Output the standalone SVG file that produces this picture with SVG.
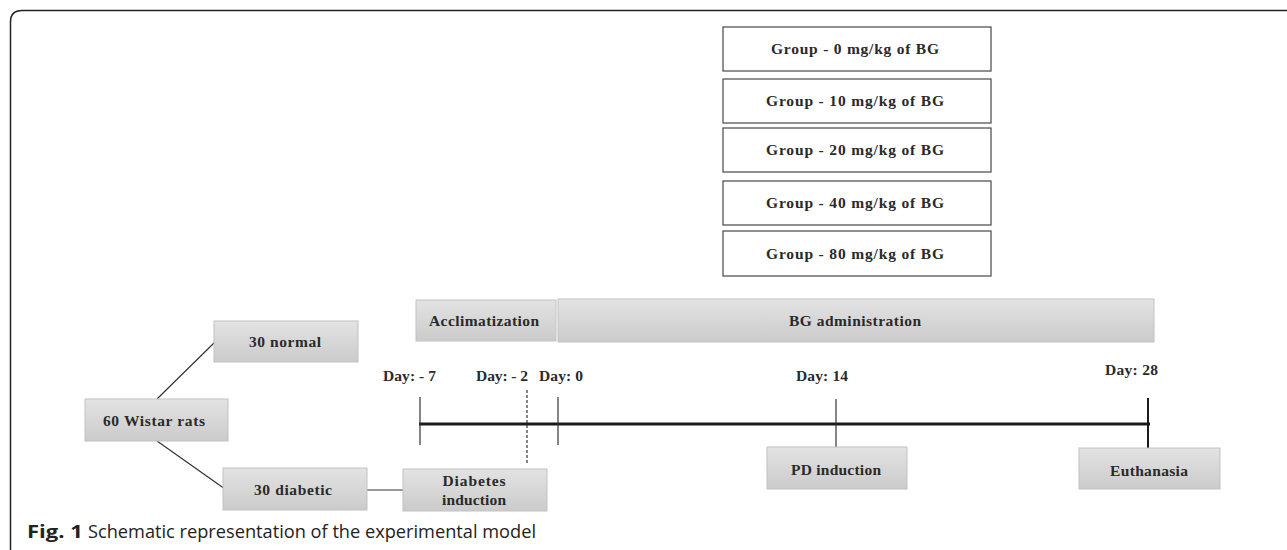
<svg xmlns="http://www.w3.org/2000/svg" width="1287" height="550" viewBox="0 0 1287 550">
<defs>
<linearGradient id="g" x1="0" y1="0" x2="0" y2="1">
<stop offset="0" stop-color="#e3e3e3"/>
<stop offset="1" stop-color="#cbcbcb"/>
</linearGradient>
</defs>
<style>
.box{fill:url(#g);stroke:#c2c2c2;stroke-width:1}
.wbox{fill:#fff;stroke:#555;stroke-width:1.3}
.t{font-family:"Liberation Serif","Times New Roman",serif;font-weight:bold;font-size:15.5px;fill:#2a2a2a;text-anchor:middle}
.cap{font-family:"Open Sans","Noto Sans",sans-serif;font-size:18px;fill:#222}
.ln{stroke:#333;stroke-width:1.2;fill:none}
</style>
<rect width="1287" height="550" fill="#fff"/>
<path d="M10.5,550 V22 Q10.5,10.5 22,10.5 H1287" fill="none" stroke="#222" stroke-width="1.5"/>

<g id="connectors">
<line class="ln" x1="157" y1="399" x2="216" y2="341"/>
<line class="ln" x1="157" y1="441" x2="225" y2="489"/>
<line class="ln" x1="367" y1="490" x2="403" y2="490"/>
<line x1="419" y1="424" x2="1150" y2="424" stroke="#1a1a1a" stroke-width="3"/>
<line class="ln" x1="420" y1="397" x2="420" y2="445"/>
<line class="ln" x1="527" y1="390" x2="527" y2="463" stroke-dasharray="3,2"/>
<line class="ln" x1="558" y1="397" x2="558" y2="445"/>
<line class="ln" x1="836" y1="399" x2="836" y2="447"/>
<line x1="1148" y1="398" x2="1148" y2="448" stroke="#1a1a1a" stroke-width="2"/>
</g>

<g id="group0"><rect class="wbox" x="723" y="27" width="268" height="44"/><text class="t" x="855" y="54" textLength="168" lengthAdjust="spacing">Group  - 0 mg/kg of BG</text></g>
<g id="group10"><rect class="wbox" x="723" y="79" width="268" height="44"/><text class="t" x="855" y="106" textLength="178" lengthAdjust="spacing">Group  - 10 mg/kg of BG</text></g>
<g id="group20"><rect class="wbox" x="723" y="128" width="268" height="44"/><text class="t" x="855" y="155" textLength="178" lengthAdjust="spacing">Group  - 20 mg/kg of BG</text></g>
<g id="group40"><rect class="wbox" x="723" y="181" width="268" height="44"/><text class="t" x="855" y="208" textLength="178" lengthAdjust="spacing">Group  - 40 mg/kg of BG</text></g>
<g id="group80"><rect class="wbox" x="723" y="231" width="268" height="45"/><text class="t" x="855" y="259" textLength="178" lengthAdjust="spacing">Group  - 80 mg/kg of BG</text></g>

<g id="acclimatization"><rect class="box" x="416" y="300" width="140" height="41"/><text class="t" x="484" y="326" textLength="110" lengthAdjust="spacing">Acclimatization</text></g>
<g id="bg-administration"><rect class="box" x="558" y="299" width="596" height="43"/><text class="t" x="855" y="326" textLength="132" lengthAdjust="spacing">BG administration</text></g>
<g id="normal"><rect class="box" x="214" y="321" width="144" height="41"/><text class="t" x="285" y="347" textLength="72" lengthAdjust="spacing">30 normal</text></g>
<g id="wistar"><rect class="box" x="85" y="399" width="143" height="42"/><text class="t" x="154" y="426" textLength="102" lengthAdjust="spacing">60 Wistar rats</text></g>
<g id="diabetic"><rect class="box" x="223" y="468" width="144" height="42"/><text class="t" x="293" y="495" textLength="78" lengthAdjust="spacing">30 diabetic</text></g>
<g id="diabetes-induction"><rect class="box" x="403" y="469" width="144" height="42"/><text class="t" x="474" y="486" textLength="63" lengthAdjust="spacing">Diabetes</text><text class="t" x="474" y="505" textLength="64" lengthAdjust="spacing">induction</text></g>
<g id="pd-induction"><rect class="box" x="767" y="447" width="140" height="42"/><text class="t" x="836" y="475" textLength="90" lengthAdjust="spacing">PD induction</text></g>
<g id="euthanasia"><rect class="box" x="1079" y="448" width="141" height="41"/><text class="t" x="1149" y="476" textLength="78" lengthAdjust="spacing">Euthanasia</text></g>

<g id="day-labels">
<text class="t" x="409.5" y="381" textLength="53" lengthAdjust="spacing">Day: - 7</text>
<text class="t" x="502" y="381" textLength="52" lengthAdjust="spacing">Day: - 2</text>
<text class="t" x="561" y="381" textLength="44" lengthAdjust="spacing">Day: 0</text>
<text class="t" x="822" y="381" textLength="52" lengthAdjust="spacing">Day: 14</text>
<text class="t" x="1131.5" y="375" textLength="53" lengthAdjust="spacing">Day: 28</text>
</g>

<g id="caption">
<text class="cap" x="27" y="538" font-weight="bold" textLength="56" lengthAdjust="spacingAndGlyphs">Fig. 1</text>
<text class="cap" x="88" y="538" textLength="448" lengthAdjust="spacingAndGlyphs">Schematic representation of the experimental model</text>
</g>
</svg>
